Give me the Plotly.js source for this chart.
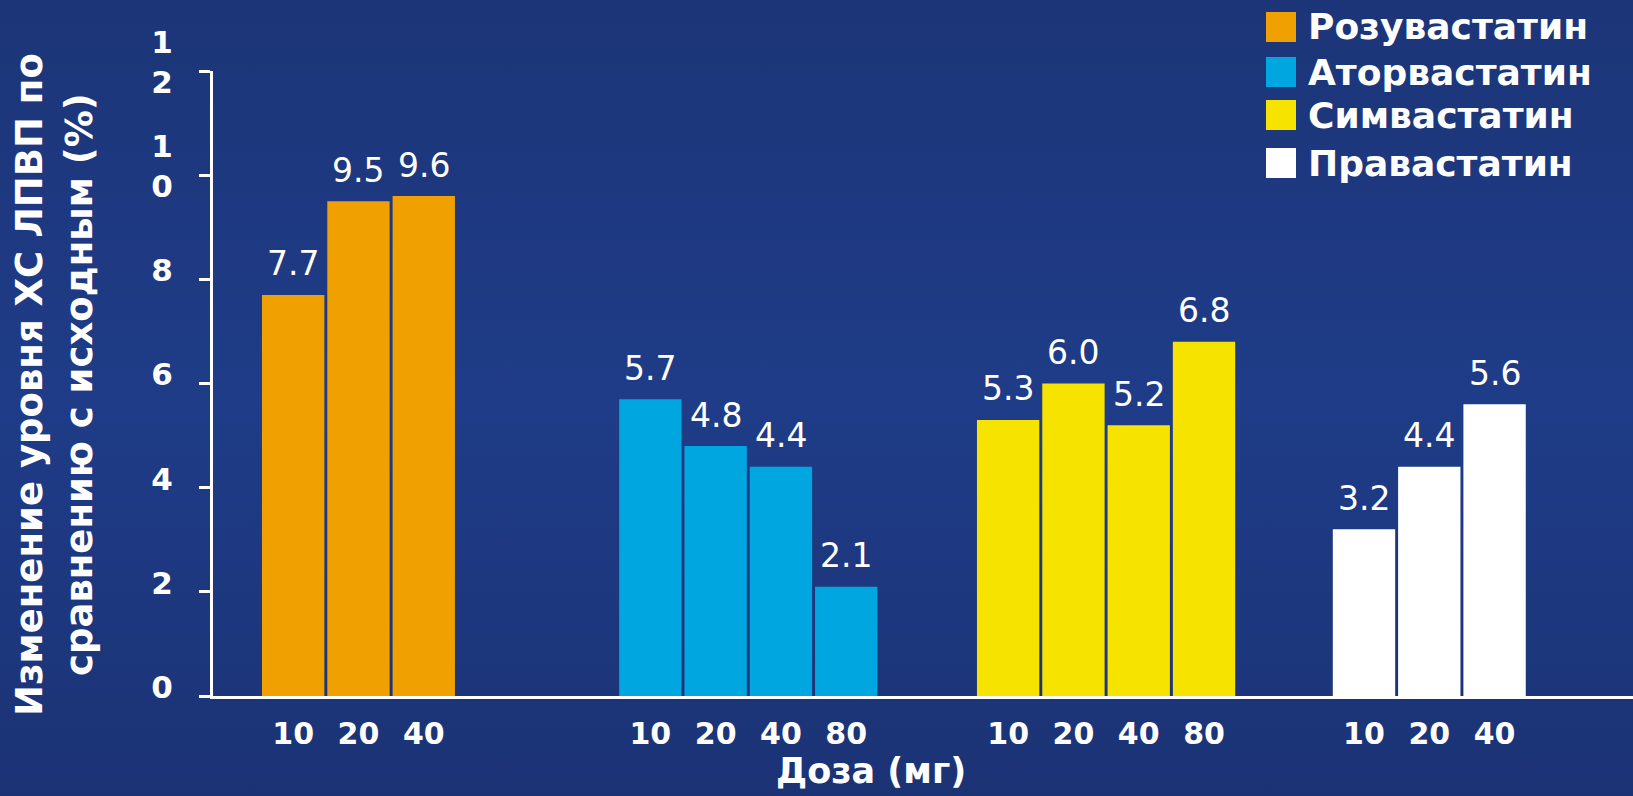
<!DOCTYPE html>
<html>
<head>
<meta charset="utf-8">
<script src="https://cdn.plot.ly/plotly-3.0.1.min.js"></script>
<style>
html,body{margin:0;padding:0;width:1633px;height:796px;overflow:hidden;
background:linear-gradient(to bottom,#1c3578 0%,#1f3c88 50%,#1b3375 100%);}
#chart{width:1633px;height:796px;}
</style>
</head>
<body>
<div id="chart"></div>
<script>
// ---- data ----
const drugs = ["Розувастатин", "Аторвастатин", "Симвастатин", "Правастатин"];
const rosuDoses = ["10", "20", "40"];
const rosuValues = [7.7, 9.5, 9.6];
const atorDoses = ["10", "20", "40", "80"];
const atorValues = [5.7, 4.8, 4.4, 2.1];
const simvDoses = ["10", "20", "40", "80"];
const simvValues = [5.3, 6.0, 5.2, 6.8];
const pravDoses = ["10", "20", "40"];
const pravValues = [3.2, 4.4, 5.6];
const yTickVals = [0, 2, 4, 6, 8, 10, 12];
const yTickText = ["0", "2", "4", "6", "8", "1<br>0", "1<br>2"];
const yTitleLines = ["Изменение уровня ХС ЛПВП по", "сравнению с исходным (%)"];
const xTitle = "Доза (мг)";

// ---- layout constants ----
const colors = ["#f0a000", "#00a6df", "#f6e300", "#ffffff"];
const groupStarts = [0, 5.47, 10.95, 16.40];
const FONT = "DejaVu Sans";
const L = 213, R = 1633, T = 71, B = 696;
const px2x = p => (p - L) / (R - L);
const py2y = p => (B - p) / (B - T);

const groups = [
  {doses: rosuDoses, values: rosuValues},
  {doses: atorDoses, values: atorValues},
  {doses: simvDoses, values: simvValues},
  {doses: pravDoses, values: pravValues}
];

const traces = [];
const annotations = [];
const tickvals = [], ticktext = [];
groups.forEach((g, gi) => {
  const xs = g.values.map((v, i) => groupStarts[gi] + i);
  traces.push({
    type: "bar", name: drugs[gi], x: xs, y: g.values, width: 0.955,
    marker: {color: colors[gi], line: {width: 0}}, hoverinfo: "x+y",
    showlegend: false
  });
  xs.forEach((x, i) => {
    tickvals.push(x); ticktext.push(g.doses[i]);
    annotations.push({
      x: x, y: g.values[i], xref: "x", yref: "y", text: g.values[i].toFixed(1),
      showarrow: false, yanchor: "middle", yshift: 31,
      font: {family: FONT, size: 33, color: "#ffffff"}
    });
  });
});

// legend (custom, large squares)
const legendRows = [[12, 42], [57, 87], [100, 130], [148, 178]];
const shapes = [];
drugs.forEach((d, i) => {
  const [y0, y1] = legendRows[i];
  shapes.push({type: "rect", xref: "paper", yref: "paper",
    x0: px2x(1266), x1: px2x(1296), y0: py2y(y1), y1: py2y(y0),
    fillcolor: colors[i], line: {width: 0}});
  annotations.push({xref: "paper", yref: "paper", x: px2x(1306), y: py2y((y0 + y1) / 2),
    xanchor: "left", yanchor: "middle", showarrow: false, text: "<b>" + d + "</b>",
    font: {family: FONT, size: 36, color: "#ffffff"}});
});

// y axis extension below the x axis
const xRange = [-1.228, 20.52];
shapes.push({type: "line", xref: "x", yref: "y", x0: xRange[0], x1: xRange[0],
  ysizemode: "pixel", yanchor: 0, y0: 0, y1: -17, line: {color: "#ffffff", width: 3}});

// axis titles
annotations.push({xref: "paper", yref: "paper", x: px2x(29), y: py2y(385), textangle: -90,
  showarrow: false, xanchor: "center", yanchor: "middle", text: "<b>" + yTitleLines[0] + "</b>",
  font: {family: FONT, size: 37, color: "#ffffff"}});
annotations.push({xref: "paper", yref: "paper", x: px2x(79), y: py2y(385), textangle: -90,
  showarrow: false, xanchor: "center", yanchor: "middle", text: "<b>" + yTitleLines[1] + "</b>",
  font: {family: FONT, size: 37, color: "#ffffff"}});
annotations.push({xref: "paper", yref: "paper", x: px2x(871), y: py2y(771),
  showarrow: false, xanchor: "center", yanchor: "middle", text: "<b>" + xTitle + "</b>",
  font: {family: FONT, size: 35, color: "#ffffff"}});

const layout = {
  width: 1633, height: 796,
  margin: {l: L, r: 1633 - R, t: T, b: 796 - B, pad: 0},
  paper_bgcolor: "rgba(0,0,0,0)", plot_bgcolor: "rgba(0,0,0,0)",
  showlegend: false,
  xaxis: {
    range: xRange, showgrid: false, zeroline: false,
    showline: true, linecolor: "#ffffff", linewidth: 3,
    tickmode: "array", tickvals: tickvals, ticktext: ticktext,
    ticks: "outside", ticklen: 9, tickcolor: "rgba(0,0,0,0)",
    tickfont: {family: FONT, size: 30, color: "#ffffff", weight: "bold"}
  },
  yaxis: {
    range: [0, 12], showgrid: false, zeroline: false,
    showline: true, linecolor: "#ffffff", linewidth: 3,
    tickmode: "array", tickvals: yTickVals, ticktext: yTickText,
    ticks: "outside", ticklen: 11, tickwidth: 3, tickcolor: "#ffffff",
    ticklabelstandoff: 20, ticklabelshift: -9,
    tickfont: {family: FONT, size: 31, color: "#ffffff", weight: "bold"}
  },
  shapes: shapes,
  annotations: annotations
};

Plotly.newPlot("chart", traces, layout, {displayModeBar: false, responsive: false});
</script>
</body>
</html>
